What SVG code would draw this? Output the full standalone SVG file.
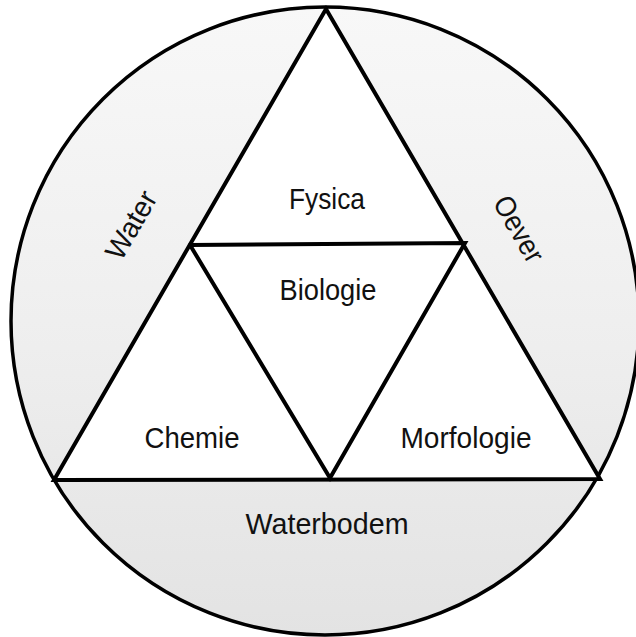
<svg xmlns="http://www.w3.org/2000/svg" width="636" height="637" viewBox="0 0 636 637">
  <style>
    .line { fill: none; stroke: #000; stroke-width: 4; stroke-linejoin: miter; stroke-linecap: round; }
    .rim { fill: url(#stip); stroke: #000; stroke-width: 3.5; }
    .white { fill: #fff; stroke: none; }
    .lbl { font-family: "Liberation Sans", Arial, sans-serif; font-size: 29px; fill: #111; text-anchor: middle; }
  </style>
  <defs>
    <linearGradient id="stip" x1="0" y1="0" x2="0" y2="1">
      <stop offset="0" stop-color="#f8f8f8"/>
      <stop offset="0.5" stop-color="#efefef"/>
      <stop offset="1" stop-color="#e3e3e3"/>
    </linearGradient>
  </defs>
  <rect width="636" height="637" fill="#fff"/>

  <g id="outer-circle">
    <circle class="rim" cx="325" cy="321" r="314"/>
  </g>

  <g id="triangle-fill">
    <polygon class="white" points="326,9 54,480 600,479"/>
  </g>

  <g id="connectors">
    <polygon class="line" points="326,9 54,480 600,479"/>
    <polyline class="line" points="190,245 465,243 330,478 190,245"/>
  </g>

  <g id="node-fysica">
    <text class="lbl" x="327" y="209" textLength="76" lengthAdjust="spacingAndGlyphs">Fysica</text>
  </g>
  <g id="node-biologie">
    <text class="lbl" x="328" y="300" textLength="97" lengthAdjust="spacingAndGlyphs">Biologie</text>
  </g>
  <g id="node-chemie">
    <text class="lbl" x="192" y="448" textLength="95" lengthAdjust="spacingAndGlyphs">Chemie</text>
  </g>
  <g id="node-morfologie">
    <text class="lbl" x="466" y="448" textLength="131" lengthAdjust="spacingAndGlyphs">Morfologie</text>
  </g>
  <g id="node-waterbodem">
    <text class="lbl" x="327" y="534" textLength="163" lengthAdjust="spacingAndGlyphs">Waterbodem</text>
  </g>
  <g id="node-water">
    <text class="lbl" transform="translate(131,225) rotate(-60)" x="0" y="10" textLength="74" lengthAdjust="spacingAndGlyphs">Water</text>
  </g>
  <g id="node-oever">
    <text class="lbl" transform="translate(519,229) rotate(60)" x="0" y="10" textLength="72" lengthAdjust="spacingAndGlyphs">Oever</text>
  </g>
</svg>
